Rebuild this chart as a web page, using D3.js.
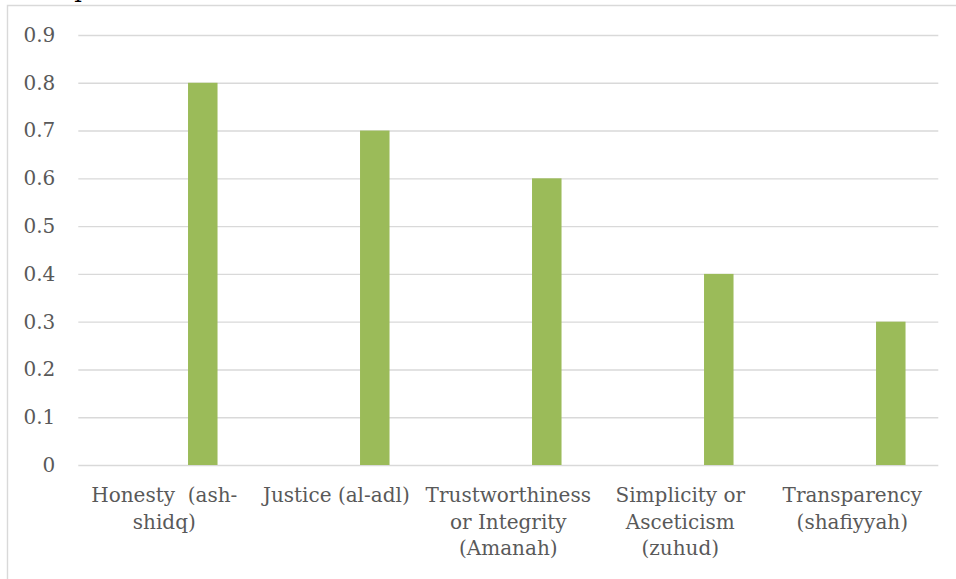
<!DOCTYPE html>
<html>
<head>
<meta charset="utf-8">
<script src="https://cdn.jsdelivr.net/npm/d3@7"></script>
<style>
  html, body { margin: 0; padding: 0; background: #fff; }
  svg { display: block; }
</style>
</head>
<body>
<svg id="chart" width="956" height="579"></svg>
<script>
// Leadership values and their scores
const categories = [
  "Honesty  (ash-\nshidq)",
  "Justice (al-adl)",
  "Trustworthiness\nor Integrity\n(Amanah)",
  "Simplicity or\nAsceticism\n(zuhud)",
  "Transparency\n(shafiyyah)"
];
const values = [0.8, 0.7, 0.6, 0.4, 0.3];
const yTicks = [0, 0.1, 0.2, 0.3, 0.4, 0.5, 0.6, 0.7, 0.8, 0.9];
const yTickLabels = ["0", "0.1", "0.2", "0.3", "0.4", "0.5", "0.6", "0.7", "0.8", "0.9"];

const svg = d3.select("#chart");
const W = 956, H = 579;
const plot = { left: 78.3, right: 938.3, top: 35, bottom: 465 };
const font = "'DejaVu Serif', serif";
const textColor = "#595959";
const gridColor = "#D9D9D9";

// Chart frame (left and top edges)
svg.append("path")
  .attr("d", `M7.5,${H} V5.5 H${W}`)
  .attr("fill", "none")
  .attr("stroke", gridColor)
  .attr("stroke-width", 1.4);

// Heading text running off the top edge
svg.append("text")
  .attr("x", 82).attr("y", -3.5)
  .attr("text-anchor", "middle")
  .attr("font-family", font)
  .attr("font-size", 24)
  .attr("fill", "#000")
  .text("p");

const y = d3.scaleLinear().domain([0, 0.9]).range([plot.bottom, plot.top]);

// Category slots for the axis labels
const x = d3.scaleBand().domain(categories).range([plot.left, plot.right]);

// Bar placement inside each category slot
const xBar = d3.scaleBand().domain(categories).range([plot.left, plot.right])
  .paddingInner(0.8285).paddingOuter(0.41425).align(0.77);

// Gridlines and value axis
const yAxis = d3.axisLeft(y)
  .tickValues(yTicks)
  .tickFormat((d, i) => yTickLabels[i])
  .tickSize(-(plot.right - plot.left))
  .tickPadding(23);

const gy = svg.append("g")
  .attr("transform", `translate(${plot.left},0)`)
  .call(yAxis);
gy.select(".domain").remove();
gy.selectAll(".tick line")
  .attr("stroke", gridColor)
  .attr("stroke-width", 1.4);
gy.selectAll(".tick text")
  .attr("fill", textColor)
  .attr("font-family", font)
  .attr("font-size", 20);

// Bars
svg.append("g")
  .selectAll("rect")
  .data(values)
  .join("rect")
  .attr("x", (d, i) => xBar(categories[i]))
  .attr("width", xBar.bandwidth())
  .attr("y", d => y(d))
  .attr("height", d => y(0) - y(d))
  .attr("fill", "#9BBB59");

// Category labels, wrapped over several lines
const labels = svg.append("g")
  .attr("font-family", font)
  .attr("font-size", 20)
  .attr("fill", textColor)
  .attr("text-anchor", "middle");

categories.forEach(c => {
  const t = labels.append("text")
    .attr("x", x(c) + x.bandwidth() / 2)
    .attr("y", 502)
    .attr("xml:space", "preserve");
  c.split("\n").forEach((line, j) => {
    t.append("tspan")
      .attr("x", x(c) + x.bandwidth() / 2)
      .attr("dy", j === 0 ? 0 : 26.5)
      .text(line);
  });
});
</script>
</body>
</html>
